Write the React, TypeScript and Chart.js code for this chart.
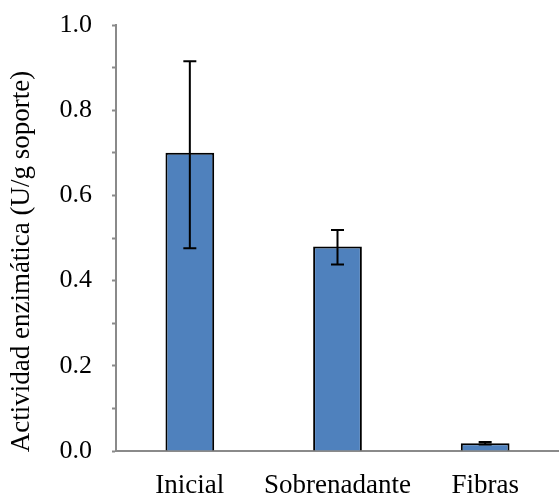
import React, { useEffect, useRef } from "react";
import { Chart, registerables } from "chart.js";

Chart.register(...registerables);

const categories = ["Inicial", "Sobrenadante", "Fibras"];
const values = [0.70, 0.48, 0.018];
const errLow = [0.476, 0.438, 0.015];
const errHigh = [0.915, 0.519, 0.021];
const yTicks = [0, 0.2, 0.4, 0.6, 0.8, 1.0];
const yTitle = "Actividad enzimática (U/g soporte)";

const FONT = "'Liberation Serif', 'Times New Roman', serif";

const errorBarPlugin = {
  id: "errorBars",
  afterDatasetsDraw(chart: any) {
    const ctx = chart.ctx;
    const meta = chart.getDatasetMeta(0);
    const y = chart.scales.y;
    ctx.save();
    ctx.strokeStyle = "#000";
    ctx.lineWidth = 2;
    meta.data.forEach((bar: any, i: number) => {
      const x = bar.x;
      const yh = y.getPixelForValue(errHigh[i]);
      const yl = y.getPixelForValue(errLow[i]);
      ctx.beginPath();
      ctx.moveTo(x, yh);
      ctx.lineTo(x, yl);
      ctx.moveTo(x - 6.5, yh);
      ctx.lineTo(x + 6.5, yh);
      ctx.moveTo(x - 6.5, yl);
      ctx.lineTo(x + 6.5, yl);
      ctx.stroke();
    });
    ctx.restore();
  },
};

const titlePlugin = {
  id: "yTitleCustom",
  afterDraw(chart: any) {
    const ctx = chart.ctx;
    ctx.save();
    ctx.fillStyle = "#000";
    ctx.font = `27px ${FONT}`;
    ctx.textAlign = "center";
    ctx.textBaseline = "alphabetic";
    ctx.translate(29, 261.5);
    ctx.rotate(-Math.PI / 2);
    ctx.fillText(yTitle, 0, 0);
    ctx.restore();
  },
};

export default function App() {
  const ref = useRef<HTMLCanvasElement>(null);
  useEffect(() => {
    if (!ref.current) return;
    const chart = new Chart(ref.current, {
      type: "bar",
      data: {
        labels: categories,
        datasets: [
          {
            data: values,
            backgroundColor: "#4F81BD",
            borderColor: "#000",
            borderWidth: 2,
            categoryPercentage: 1,
            barPercentage: 0.33,
          },
        ],
      },
      options: {
        animation: false,
        responsive: false,
        layout: { padding: { top: 25, right: 0, left: 0, bottom: 0 } },
        plugins: { legend: { display: false }, tooltip: { enabled: false } },
        scales: {
          x: {
            grid: { display: false, drawTicks: false },
            border: { color: "#8a8a8a", width: 2 },
            ticks: { color: "#000", font: { family: FONT, size: 27 }, padding: 19, maxRotation: 0, minRotation: 0, autoSkip: false },
            afterFit: (s: any) => { s.height = 46; s.paddingLeft = 0; s.paddingRight = 0; },
          },
          y: {
            min: 0,
            max: 1,
            grid: { drawOnChartArea: false, drawTicks: true, tickLength: 4, color: "#8a8a8a", tickWidth: 2 },
            border: { color: "#8a8a8a", width: 2 },
            ticks: {
              stepSize: 0.1,
              autoSkip: false,
              color: "#000",
              font: { family: FONT, size: 26 },
              padding: 20,
              callback: (v: any) => {
                const n = Math.round(Number(v) * 10) / 10;
                return yTicks.some((t) => Math.abs(t - n) < 1e-6) ? n.toFixed(1) : "";
              },
            },
            afterFit: (s: any) => { s.width = 116; s.paddingTop = 0; s.paddingBottom = 0; },
          },
        },
      },
      plugins: [errorBarPlugin, titlePlugin],
    });
    return () => chart.destroy();
  }, []);
  return (
    <div style={{ position: "fixed", left: 0, top: 0, width: 559, height: 497, background: "#fff" }}>
      <canvas ref={ref} width={559} height={497} style={{ display: "block" }} />
    </div>
  );
}
